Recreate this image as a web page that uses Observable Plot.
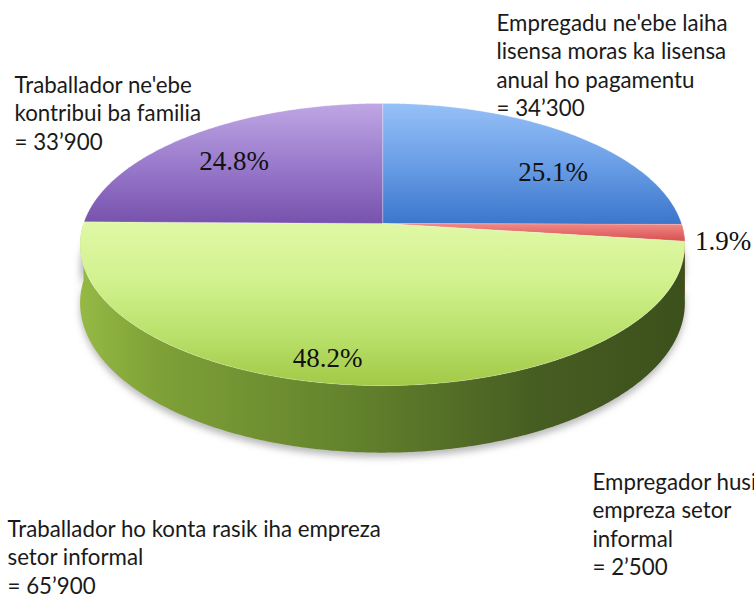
<!DOCTYPE html>
<html><head><meta charset="utf-8">
<script src="https://cdn.jsdelivr.net/npm/d3@7"></script>
<script src="https://cdn.jsdelivr.net/npm/@observablehq/plot@0.6"></script>
<style>body{margin:0;background:#fff}</style>
</head><body><div id="chart"></div>
<script>
// ---- data ----
const categories = [
  "Empregadu ne'ebe laiha lisensa moras ka lisensa anual ho pagamentu",
  "Empregador husi empreza setor informal",
  "Traballador ho konta rasik iha empreza setor informal",
  "Traballador ne'ebe kontribui ba familia"
];
const counts = [34300, 2500, 65900, 33900];
const countLabels = ["34’300", "2’500", "65’900", "33’900"];
const percents = [25.1, 1.9, 48.2, 24.8];
const labelLines = [
  ["Empregadu ne'ebe laiha", "lisensa moras ka lisensa", "anual ho pagamentu", "= " + countLabels[0]],
  ["Empregador husi", "empreza setor", "informal", "= " + countLabels[1]],
  ["Traballador ho konta rasik iha empreza", "setor informal", "= " + countLabels[2]],
  ["Traballador ne'ebe", "kontribui ba familia", "= " + countLabels[3]]
];
const sliceFills = ["url(#gBlue)", "url(#gRed)", "url(#gGreenTop)", "url(#gPurple)"];
const sideFills = ["#3b70b8", "#b84444", "url(#gGreenSide)", "#6a4a9c"];

// ---- layout (perspective pie) ----
const CX = 382, CY = 223, RX = 299, A = 138, B = 0.149, H = 57;
const labelAnchor = [[496, 30], [592, 489], [7, 536], [14, 92]]; // first-line baselines
const pctPolar = [[57, 0.72], [96.6, 1.125], [190.6, 0.87], [312, 0.716]]; // [angle, radius]
const FS = 22.3, LH = 28.6;
const SHADOW = "#7f7f80";

const proj = (u, v, dz = 0) => { const k = 1 / (1 - B * v); return {x: CX + RX * u * k, y: CY + (A * v + dz) * k}; };
const polar = (deg, r = 1, dz = 0) => { const p = deg * Math.PI / 180; return proj(r * Math.sin(p), -r * Math.cos(p), dz); };
const arc = (a0, a1, dz = 0) => {
  const n = Math.max(2, Math.ceil(Math.abs(a1 - a0) / 0.5));
  return d3.range(n + 1).map(i => polar(a0 + (a1 - a0) * i / n, 1, dz));
};

let acc = 0;
const slices = percents.map((p, i) => { const s = acc * 3.6; acc += p; return {i, s, e: acc * 3.6}; });

const topFaces = slices.map(({i, s, e}) => ({i, pts: [polar(0, 0), ...arc(s, e)]}));
const sides = slices.map(({i, s, e}) => {
  const lo = Math.max(s, 90), hi = Math.min(e, 270);
  if (hi <= lo) return {i, pts: []};
  return {i, pts: [...arc(lo, hi, 0), ...arc(hi, lo, H)]};
});
const shadowPts = [...arc(80, 280, H * 0.4), ...arc(280, 80, H + 4)];

const textRows = labelLines.flatMap((lines, i) => lines.map((t, j) => ({t, x: labelAnchor[i][0], y: labelAnchor[i][1] + j * LH})));
const pctRows = percents.map((p, i) => ({t: p.toFixed(1) + "%", ...polar(pctPolar[i][0], pctPolar[i][1])}));

const marks = [];
marks.push(Plot.text(textRows, {x: "x", y: "y", text: "t", textAnchor: "start", lineAnchor: "bottom", fontSize: FS, fill: "#1a1a1a", fontFamily: "Lato, 'Open Sans', sans-serif"}));
marks.push(Plot.line(shadowPts, {x: "x", y: "y", curve: "linear-closed", fill: SHADOW, fillOpacity: 0.55, stroke: "none"}));
sides.forEach(sd => { if (sd.pts.length) marks.push(Plot.line(sd.pts, {x: "x", y: "y", curve: "linear-closed", fill: sideFills[sd.i], stroke: "none"})); });
topFaces.forEach(f => marks.push(Plot.line(f.pts, {x: "x", y: "y", curve: "linear-closed", fill: sliceFills[f.i], stroke: "#ffffff", strokeOpacity: 0.35, strokeWidth: 0.6})));
marks.push(Plot.text(pctRows, {x: "x", y: "y", text: "t", fontSize: 27, fill: "#111", fontFamily: "'Liberation Serif', 'DejaVu Serif', serif"}));

const svg = Plot.plot({
  width: 754, height: 600, margin: 0,
  x: {domain: [0, 754], range: [0, 754], axis: null},
  y: {domain: [0, 600], range: [0, 600], axis: null},
  style: {background: "#fff", overflow: "hidden"},
  marks
});

const defs = d3.select(svg).insert("defs", ":first-child");
function vgrad(id, stops) {
  const g = defs.append("linearGradient").attr("id", id).attr("x1", 0).attr("y1", 0).attr("x2", 0).attr("y2", 1);
  stops.forEach(([o, c]) => g.append("stop").attr("offset", o).attr("stop-color", c));
}
vgrad("gBlue", [[0, "#96c0f7"], [0.5, "#6a9ee6"], [1, "#3a76cb"]]);
vgrad("gPurple", [[0, "#bfa6e4"], [0.5, "#9a7bcc"], [1, "#7752ad"]]);
vgrad("gRed", [[0, "#f08a88"], [1, "#d8504e"]]);
vgrad("gGreenTop", [[0, "#e0f8a6"], [0.35, "#d2f28f"], [0.7, "#b9e06a"], [1, "#a2c946"]]);
const gs = defs.append("linearGradient").attr("id", "gGreenSide").attr("gradientUnits", "userSpaceOnUse")
  .attr("x1", CX - RX).attr("y1", 0).attr("x2", CX + RX).attr("y2", 0);
[[0, "#94b844"], [0.12, "#7fa137"], [0.45, "#63822c"], [0.75, "#475e22"], [1, "#3c501c"]]
  .forEach(([o, c]) => gs.append("stop").attr("offset", o).attr("stop-color", c));
defs.append("filter").attr("id", "blur").attr("x", "-10%").attr("y", "-30%").attr("width", "120%").attr("height", "160%")
  .append("feGaussianBlur").attr("stdDeviation", 3.5);
d3.select(svg).selectAll(`[fill="${SHADOW}"]`).attr("filter", "url(#blur)");

document.getElementById("chart").appendChild(svg);
</script>
</body></html>
